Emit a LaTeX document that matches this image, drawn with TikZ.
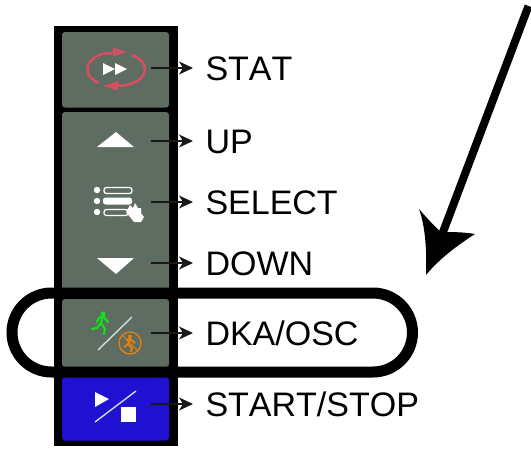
\documentclass[tikz,border=0pt]{standalone}
\usepackage{fontspec}
\setmainfont[Kerning=Off]{Liberation Sans}
\usetikzlibrary{arrows.meta}
\definecolor{btn}{HTML}{5F6C62}
\definecolor{btnblue}{HTML}{2010D2}
\definecolor{statred}{HTML}{D2505F}
\definecolor{runorange}{HTML}{E8800F}
\definecolor{rungreen}{HTML}{12E21A}
\definecolor{slashgrey}{HTML}{D5DAD5}
\tikzset{
  x=1pt,y=-1pt,
  btnbox/.style={fill=btn,rounded corners=3pt},
  lbl/.style={anchor=west,inner xsep=12.3pt,inner ysep=0pt,text height=24.4pt,text depth=0pt,
    font=\fontsize{34}{38}\selectfont,text=black},
  conn/.style={draw=black!90,line width=1.2pt,-{Stealth[length=14pt,width=13pt,inset=4pt]}},
  wfill/.style={fill=white,draw=none},
  slash/.style={draw=slashgrey,line width=1.4pt},
  redline/.style={draw=statred,line width=2.6pt},
  ringline/.style={draw=black,line width=11pt},
}
\begin{document}
\begin{tikzpicture}
\useasboundingbox (0,0) rectangle (531,448);
% panel
\fill[black] (54,26) rectangle (177.5,446);
\fill[btnbox] (62,32) rectangle (169,107.5);
\fill[btnbox] (62,112) rectangle (169,290);
\fill[btnbox] (62,299) rectangle (169,367);
\fill[btnblue,rounded corners=3pt] (62,377) rectangle (169,440.5);
% STAT icon
\draw[redline] (108,53) .. controls (96,54) and (87.5,61) .. (87.5,69) .. controls (87.5,76) and (92,80) .. (99,83);
\draw[redline] (106,53.5) -- (122,52);
\fill[statred] (113,47.5) -- (127,52) -- (113,56.5) -- cycle;
\draw[redline] (132,55) .. controls (140,58) and (145,63) .. (145,69) .. controls (145,78) and (134,85) .. (122,85.5);
\draw[redline] (125,85.5) -- (108,86);
\fill[statred] (118,81) -- (103,86) -- (118,90.5) -- cycle;
\fill[wfill] (103,63) -- (115,69) -- (103,75) -- cycle;
\fill[wfill] (115,63) -- (127,69) -- (115,75) -- cycle;
% UP, DOWN
\fill[wfill] (97,147) -- (116,132) -- (134,147) -- cycle;
\fill[wfill] (97,258) -- (134,258) -- (116,274) -- cycle;
% SELECT icon
\foreach \yy in {190,201,212} \fill[wfill] (97,\yy) circle (3.2);
\draw[white,line width=1.3pt,rounded corners=2.5pt] (104,187.5) rectangle (132,193.5);
\fill[white,rounded corners=2.5pt] (103,197.5) rectangle (132,204.5);
\draw[white,line width=1.3pt,rounded corners=2.5pt] (104,209.5) rectangle (128,215.5);
\fill[wfill] (126,212) -- (130,205) -- (133,208) -- (135,203) -- (138,208) -- (141,208) -- (141,213) -- (144,217) -- (141,222) -- (134,222) -- cycle;
% DKA/OSC icon
\draw[rungreen,line width=2.2pt,line cap=round,line join=round] (92,329) -- (97,328) -- (101,323) -- (103,316) -- (99,318) -- (97,322)
  (103,316) -- (108,322) (101,323) -- (105,329) -- (104,334);
\fill[rungreen] (103,314) circle (2.6);
\draw[slash] (98,350) -- (132,317);
\draw[runorange,line width=1.3pt] (130,343) circle (11);
\draw[runorange,line width=1.9pt,line join=round] (124,347) -- (128,344) -- (130,339) -- (126,340) (130,339) -- (135,343)
  (128,344) -- (132,348) -- (131,352);
\fill[runorange] (130,336.5) circle (2);
\draw[runorange,line width=.9pt] (122.5,335.5) -- (137.5,350.5);
% START/STOP icon
\fill[wfill] (95,392) -- (109,399) -- (95,407) -- cycle;
\draw[slash] (95,422) -- (136,391);
\fill[wfill] (121,407) rectangle (136,422);
% labels
\node[lbl] (stat) at (193,68) {STAT};
\node[lbl] (up) at (193,141) {UP};
\node[lbl] (select) at (193,202) {SELECT};
\node[lbl] (down) at (193,263) {DOWN};
\node[lbl] (dka) at (193,333) {DKA/OSC};
\node[lbl] (start) at (193,404) {START/STOP};
\coordinate (s1) at (151,68);
\coordinate (s2) at (151,141);
\coordinate (s3) at (151,202);
\coordinate (s4) at (151,263);
\coordinate (s5) at (151,333);
\coordinate (s6) at (151,404);
\draw[conn] (s1) -- (stat.west);
\draw[conn] (s2) -- (up.west);
\draw[conn] (s3) -- (select.west);
\draw[conn] (s4) -- (down.west);
\draw[conn] (s5) -- (dka.west);
\draw[conn] (s6) -- (start.west);
% ring
\draw[ringline,rounded corners=39.5pt] (12,293) rectangle (412.5,372);
% big arrow
\coordinate (bigA) at (528.5,6);
\coordinate (bigB) at (440,240);
\draw[black,line width=8pt] (bigA) -- (bigB);
\fill[black] (419,209) .. controls (425,225) and (427,250) .. (426,275)
  .. controls (440,258) and (458,245) .. (475,234)
  .. controls (463,232) and (452,232) .. (441,232)
  .. controls (433,225) and (426,217) .. (419,209) -- cycle;
\end{tikzpicture}
\end{document}
